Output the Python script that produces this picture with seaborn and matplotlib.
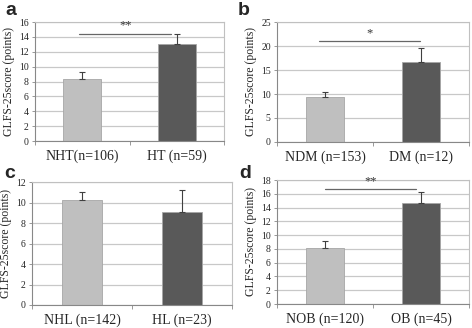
import numpy as np
import pandas as pd
import matplotlib
matplotlib.use("Agg")
from matplotlib import pyplot as plt
import seaborn as sns

# ==================== 数据 ====================
labels_a = ['NHT(n=106)', 'HT (n=59)']
means_a = [8.3, 13.1]
errs_a = [1.0, 1.3]

labels_b = ['NDM (n=153)', 'DM (n=12)']
means_b = [9.4, 16.6]
errs_b = [1.0, 3.0]

labels_c = ['NHL (n=142)', 'HL (n=23)']
means_c = [10.2, 9.05]
errs_c = [0.85, 2.2]

labels_d = ['NOB (n=120)', 'OB (n=45)']
means_d = [8.2, 14.7]
errs_d = [1.0, 1.5]

ylims = [16, 25, 12, 18]
ysteps = [2, 5, 2, 2]
sig_marks = ['**', '*', None, '**']
sig_y = [14.45, 21.0, None, 16.7]
sig_x = [(-0.03, 0.94), (-0.06, 0.99), None, (0.0, 0.95)]

bar_colors = ['#bfbfbf', '#595959']
W, H = 472, 328

sns.set_theme(style='white')
plt.rcParams['font.family'] = ['Liberation Serif', 'DejaVu Serif']

fig = plt.figure(figsize=(W / 100, H / 100), dpi=100)

# 像素框: 左, 上, 右, 下
boxes = [(35, 22, 224, 141), (277, 22, 469, 142),
         (32, 182, 232, 305), (277, 180, 469, 304)]
letters = ['a', 'b', 'c', 'd']
letter_pos = [(5, 2), (238, 2), (4, 165), (239, 165)]
panels = [(labels_a, means_a, errs_a), (labels_b, means_b, errs_b),
          (labels_c, means_c, errs_c), (labels_d, means_d, errs_d)]

for i, (labs, means, errs) in enumerate(panels):
    l, t, r, b = boxes[i]
    ax = fig.add_axes([l / W, 1 - b / H, (r - l) / W, (b - t) / H])
    df = pd.DataFrame({'group': labs, 'score': means})
    sns.barplot(data=df, x='group', y='score', hue='group', palette=bar_colors,
                width=0.4, legend=False, ax=ax, zorder=2,
                edgecolor=['#a6a6a6', '#404040'], linewidth=0.6)
    ax.errorbar([0, 1], means, yerr=[[0, 0], errs], fmt='none',
                ecolor='#404040', elinewidth=0.8, capsize=2, capthick=0.8, zorder=3)
    ax.set_xlim(-0.5, 1.5)
    ax.set_ylim(0, ylims[i])
    ax.set_yticks(np.arange(0, ylims[i] + 0.1, ysteps[i]))
    ax.yaxis.grid(True, color='#c8c8c8', lw=0.9, zorder=0)
    ax.set_axisbelow(True)
    ax.set_xlabel('')
    ax.set_ylabel('GLFS-25score (points)', fontsize=8.5, labelpad=3)
    ax.tick_params(axis='y', labelsize=7, length=2.5, width=0.6, color='#888888',
                   left=True, pad=2)
    ax.tick_params(axis='x', labelsize=10, length=0, pad=6)
    # Excel 风格的 x 轴刻度（类别边界）
    ax.set_xticks([-0.5, 0.5, 1.5], minor=True)
    ax.tick_params(axis='x', which='minor', length=3, width=0.6, color='#888888',
                   bottom=True)
    for side in ['top', 'right']:
        ax.spines[side].set_color('#c0c0c0')
        ax.spines[side].set_linewidth(0.8)
    for side in ['left', 'bottom']:
        ax.spines[side].set_color('#888888')
        ax.spines[side].set_linewidth(0.8)

    if sig_marks[i]:
        x0, x1 = sig_x[i]
        ax.plot([x0, x1], [sig_y[i], sig_y[i]], color='#666666', lw=0.9, zorder=4)
        ax.text((x0 + x1) / 2, sig_y[i] + ylims[i] * 0.015, sig_marks[i],
                ha='center', va='bottom', fontsize=9, color='#333333')

    lx, ly = letter_pos[i]
    fig.text(lx / W, 1 - ly / H, letters[i], ha='left', va='top', fontsize=14,
             fontweight='bold', family=['Liberation Sans', 'DejaVu Sans'])

fig.savefig('out.png', dpi=100)
